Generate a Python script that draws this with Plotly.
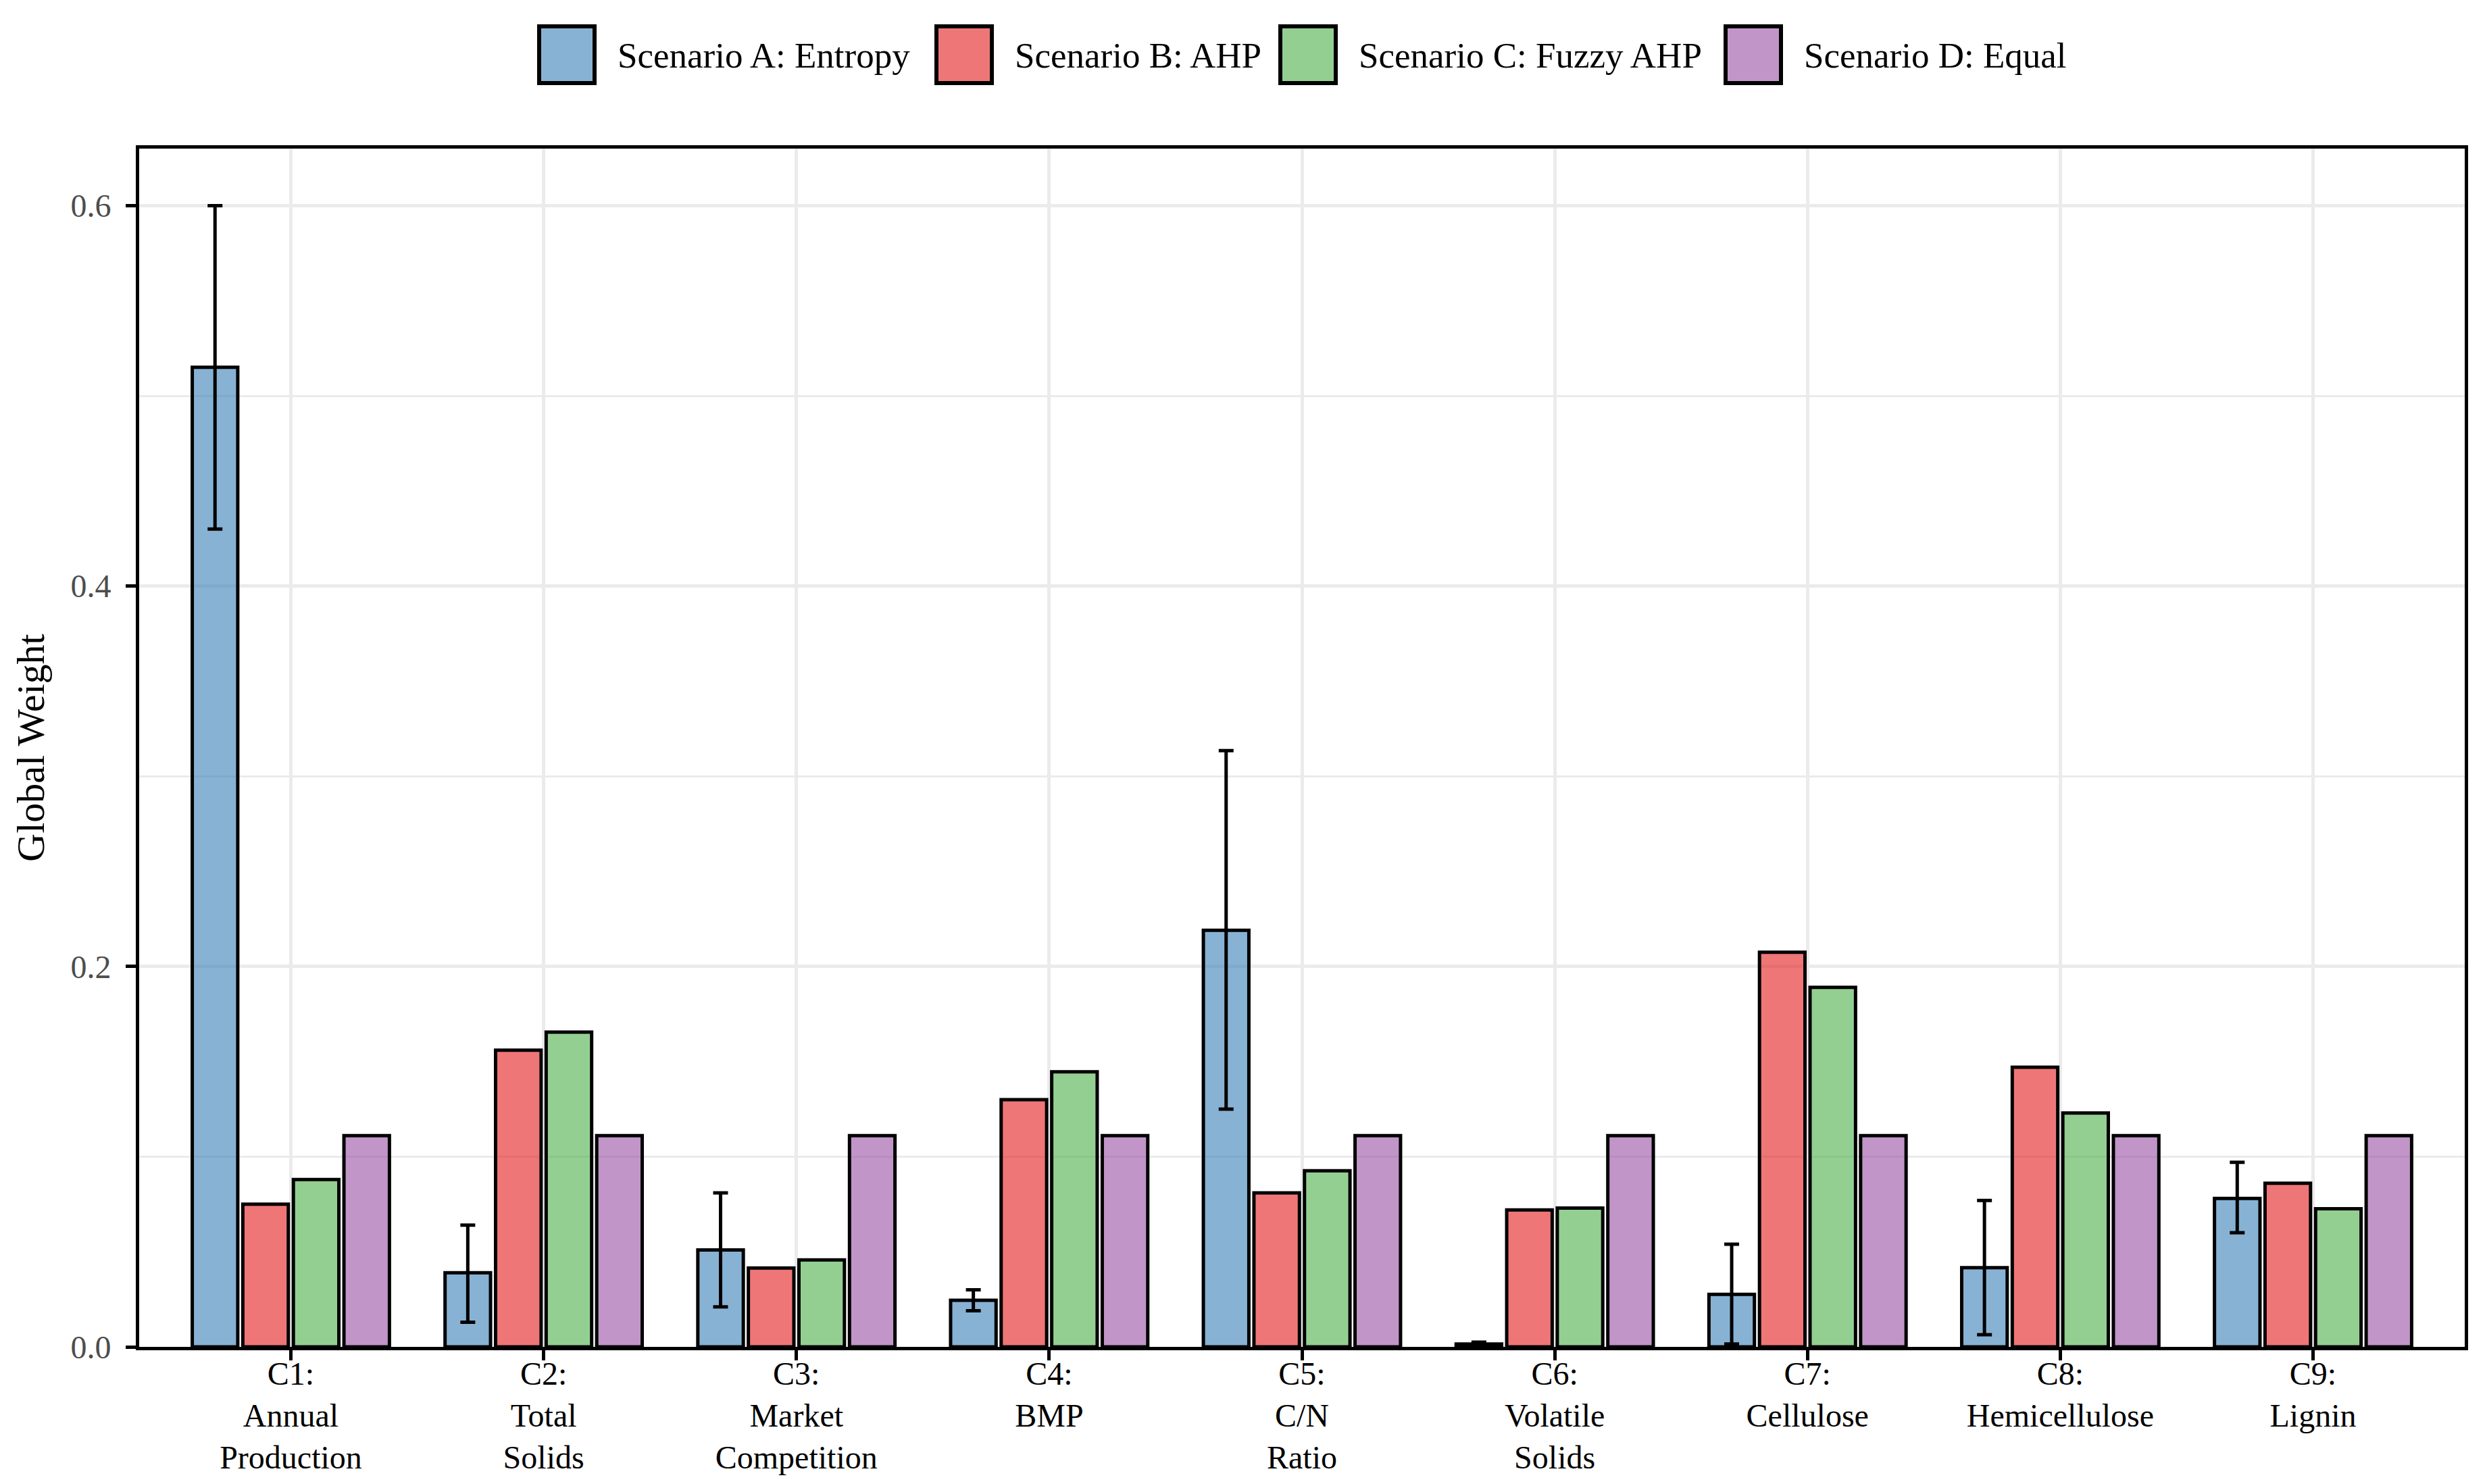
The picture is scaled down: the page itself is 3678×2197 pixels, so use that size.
import plotly.graph_objects as go

# ---- data ----
categories = ["C1:<br>Annual<br>Production", "C2:<br>Total<br>Solids", "C3:<br>Market<br>Competition",
              "C4:<br>BMP", "C5:<br>C/N<br>Ratio", "C6:<br>Volatile<br>Solids",
              "C7:<br>Cellulose", "C8:<br>Hemicellulose", "C9:<br>Lignin"]
series_names = ["Scenario A: Entropy", "Scenario B: AHP", "Scenario C: Fuzzy AHP", "Scenario D: Equal"]

entropy = [0.515, 0.039, 0.051, 0.0245, 0.219, 0.0015, 0.0276, 0.0416, 0.078]
entropy_upper = [0.600, 0.064, 0.081, 0.030, 0.3135, 0.0025, 0.054, 0.077, 0.097]
entropy_lower = [0.430, 0.013, 0.021, 0.019, 0.125, 0.0005, 0.0015, 0.0064, 0.060]
ahp = [0.075, 0.156, 0.0415, 0.130, 0.081, 0.072, 0.2075, 0.147, 0.086]
fuzzy_ahp = [0.088, 0.1655, 0.0457, 0.1446, 0.0926, 0.073, 0.189, 0.123, 0.0726]
equal = [0.1111, 0.1111, 0.1111, 0.1111, 0.1111, 0.1111, 0.1111, 0.1111, 0.1111]

y_ticks = [0.0, 0.2, 0.4, 0.6]
y_tick_text = ["0.0", "0.2", "0.4", "0.6"]

# ---- style ----
W, H = 3678, 2197
L, R, T, B = 206, 3648, 220, 1994   # plot panel in pixels
FONT = "Liberation Serif"
fills = ["rgba(55,126,184,0.6)", "rgba(228,26,28,0.6)", "rgba(77,175,74,0.6)", "rgba(152,78,163,0.6)"]

fig = go.Figure()
series_vals = [entropy, ahp, fuzzy_ahp, equal]
for i, (name, vals) in enumerate(zip(series_names, series_vals)):
    kw = {}
    if i == 0:
        kw["error_y"] = dict(type="data", symmetric=False,
                             array=[u - v for u, v in zip(entropy_upper, entropy)],
                             arrayminus=[v - l for v, l in zip(entropy, entropy_lower)],
                             color="black", thickness=5, width=11)
    fig.add_trace(go.Bar(x=categories, y=vals, name=name, showlegend=False,
                         marker=dict(color=fills[i], line=dict(color="black", width=5)), **kw))

fig.update_layout(
    width=W, height=H,
    margin=dict(l=L, r=W - R, t=T, b=H - B, pad=0, autoexpand=False),
    paper_bgcolor="white", plot_bgcolor="white",
    barmode="group", bargap=0.2, bargroupgap=0.1,
    font=dict(family=FONT, color="black", size=48),
)
fig.update_xaxes(range=[-0.6, 8.6], showgrid=True, gridcolor="#EBEBEB", gridwidth=5,
                 showline=True, linecolor="black", linewidth=5, mirror=True, automargin=False,
                 ticks="outside", ticklen=15, tickwidth=5, tickcolor="black",
                 tickfont=dict(family=FONT, size=48, color="black"), ticklabelstandoff=-22)
fig.update_yaxes(range=[0, 0.63], tickvals=y_ticks, ticktext=y_tick_text, automargin=False,
                 showgrid=True, gridcolor="#EBEBEB", gridwidth=5, zeroline=False,
                 minor=dict(dtick=0.1, tick0=0, showgrid=True, gridcolor="#EBEBEB", gridwidth=2.5, ticks=""),
                 showline=True, linecolor="black", linewidth=5, mirror=True,
                 ticks="outside", ticklen=15, tickwidth=5, tickcolor="black",
                 tickfont=dict(family=FONT, size=48, color="#4D4D4D"), ticklabelstandoff=12,
                 title=dict(text="Global Weight", font=dict(family=FONT, size=58, color="black"), standoff=22))

# ---- custom legend (large keys as in reference) ----
def px_x(p):
    return (p - L) / (R - L)

def px_y(p):
    return (B - p) / (B - T)

key_left = [798, 1386, 1895, 2554]
key_w, key_top, key_bot = 82, 39, 123
text_left = [912, 1500, 2009, 2668]
for i, name in enumerate(series_names):
    fig.add_shape(type="rect", xref="paper", yref="paper",
                  x0=px_x(key_left[i]), x1=px_x(key_left[i] + key_w),
                  y0=px_y(key_bot), y1=px_y(key_top),
                  fillcolor=fills[i], line=dict(color="black", width=6))
    fig.add_annotation(xref="paper", yref="paper", x=px_x(text_left[i]), y=px_y(82),
                       xanchor="left", yanchor="middle", showarrow=False, text=name,
                       font=dict(family=FONT, size=53, color="black"))

fig.write_html("out.html", config={"displayModeBar": False},
               post_script="document.body.style.margin='0';document.body.style.overflow='hidden';")
